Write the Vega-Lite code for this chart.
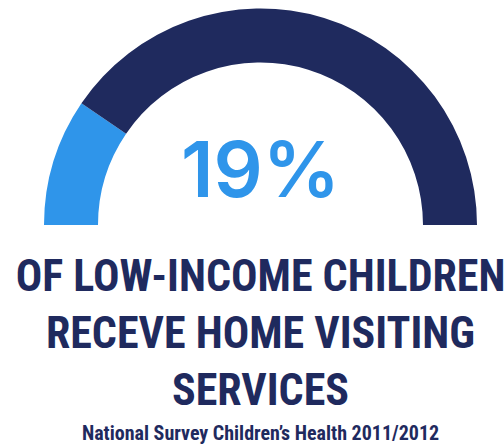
{
  "$schema": "https://vega.github.io/schema/vega-lite/v6.json",
  "width": 433,
  "height": 216.5,
  "autosize": {"type": "none"},
  "padding": {"left": 44, "top": 8.5, "right": 27, "bottom": 219},
  "background": "white",
  "view": {"stroke": null},
  "data": {"values": [
    {"category": "Receive home visiting", "value": 19},
    {"category": "Do not receive", "value": 81}
  ]},
  "title": {
    "text": ["OF LOW-INCOME CHILDREN", "RECEVE HOME VISITING", "SERVICES"],
    "subtitle": "National Survey Children’s Health 2011/2012",
    "orient": "bottom",
    "anchor": "middle",
    "offset": 31,
    "font": "Roboto Condensed, Liberation Sans Narrow, DejaVu Sans Condensed, Roboto, sans-serif",
    "fontSize": 44,
    "fontWeight": "bold",
    "lineHeight": 57,
    "color": "#1f2a5e",
    "subtitleFont": "Roboto Condensed, Liberation Sans Narrow, DejaVu Sans Condensed, Roboto, sans-serif",
    "subtitleFontSize": 20,
    "subtitleFontWeight": "bold",
    "subtitleColor": "#1f2a5e",
    "subtitlePadding": 10
  },
  "layer": [
    {
      "mark": {"type": "arc", "radius": 216.5, "innerRadius": 162.5, "y": "height"},
      "encoding": {
        "theta": {"field": "value", "type": "quantitative", "stack": true, "scale": {"range": [-1.5707963, 1.5707963]}},
        "order": {"field": "value", "sort": "ascending"},
        "color": {"field": "category", "type": "nominal", "legend": null,
          "scale": {"domain": ["Receive home visiting", "Do not receive"], "range": ["#2f95ea", "#1f2a5e"]}}
      }
    },
    {
      "data": {"values": [{"label": "19%"}]},
      "mark": {"type": "text", "y": "height", "dy": -28, "baseline": "alphabetic", "align": "center", "font": "Inter", "fontWeight": 600, "fontSize": 77, "color": "#2f95ea"},
      "encoding": {"text": {"field": "label"}}
    }
  ]
}
